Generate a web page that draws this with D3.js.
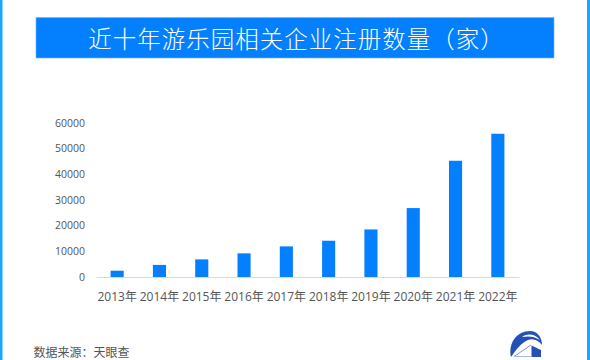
<!DOCTYPE html>
<html>
<head>
<meta charset="utf-8">
<script src="https://cdn.jsdelivr.net/npm/d3@7"></script>
<style>
  html, body { margin: 0; padding: 0; background: #fff; overflow: hidden; }
  svg { display: block; }
  text { font-family: "Open Sans", "Noto Sans CJK SC", sans-serif; }
</style>
</head>
<body>
<div id="chart"></div>
<script>
const years = ['2013年', '2014年', '2015年', '2016年', '2017年', '2018年', '2019年', '2020年', '2021年', '2022年'];
const counts = [2450, 4700, 6850, 9200, 11900, 14100, 18500, 26800, 45200, 55700];
const yTicks = [0, 10000, 20000, 30000, 40000, 50000, 60000];
const title = '近十年游乐园相关企业注册数量（家）';
const source = '数据来源：天眼查';

const width = 590, height = 360;
const svg = d3.select('#chart').append('svg').attr('width', width).attr('height', height);

// side strips of the page frame
svg.append('rect').attr('x', 0).attr('y', 0).attr('width', 2.5).attr('height', height).attr('fill', '#1ba7ff');
svg.append('rect').attr('x', 587).attr('y', 0).attr('width', 3).attr('height', height).attr('fill', '#1ba7ff');

// title banner
svg.append('rect')
    .attr('x', 36).attr('y', 17.5).attr('width', 518).attr('height', 40.5)
    .attr('fill', '#0480ff')
    .attr('stroke', '#6db5ff').attr('stroke-width', 0.6);
svg.append('text')
    .attr('x', 296.5).attr('y', 37.5)
    .attr('text-anchor', 'middle')
    .attr('dominant-baseline', 'central')
    .attr('fill', '#fff')
    .style('font-family', '"Noto Sans CJK SC", sans-serif')
    .style('font-weight', 300)
    .style('font-size', '23.5px')
    .style('letter-spacing', '1px')
    .text(title);

const x = d3.scaleBand().domain(years).range([96, 519]).paddingInner(0.69).paddingOuter(0.345);
const y = d3.scaleLinear().domain([0, 60000]).range([277, 122.7]);

// y axis, labels only
const yAxis = svg.append('g')
    .attr('transform', 'translate(85,0)')
    .call(d3.axisLeft(y).tickValues(yTicks).tickSize(0).tickPadding(0).tickFormat(d3.format('d')));
yAxis.select('.domain').remove();
yAxis.selectAll('text').attr('fill', '#555').style('font-size', '10.5px');

// x axis
const xAxis = svg.append('g')
    .attr('transform', 'translate(0,277)')
    .call(d3.axisBottom(x).tickSize(0).tickPadding(15));
xAxis.select('.domain').attr('stroke', '#d9d9d9').attr('stroke-width', 1);
xAxis.selectAll('text').attr('fill', '#555').style('font-size', '12px');

// bars
svg.selectAll('.bar')
    .data(years)
    .enter()
    .append('rect')
    .attr('class', 'bar')
    .attr('x', d => x(d))
    .attr('width', x.bandwidth())
    .attr('y', (d, i) => y(counts[i]))
    .attr('height', (d, i) => y(0) - y(counts[i]))
    .attr('fill', '#0480ff');

// source note
svg.append('text')
    .attr('x', 33.5).attr('y', 357)
    .attr('fill', '#555')
    .style('font-family', '"Noto Sans CJK SC", sans-serif')
    .style('font-size', '12px')
    .text(source);

// logo
const logo = svg.append('g');
logo.append('path')
    .attr('d', 'M511 357 C508 343 517 331 530 331 C537 331 542 337 542 345 C538 340 533 338 528 340 C521 343 516 350 511 357 Z')
    .attr('fill', '#2450b8');
logo.append('path')
    .attr('d', 'M522 337 C528 333 535 334 540 340 C534 336 528 336 522 337 Z')
    .attr('fill', '#fff');
logo.append('path')
    .attr('d', 'M531.5 357 L531.5 345.5 L541 350 L541 357 Z')
    .attr('fill', '#2450b8');
logo.append('path')
    .attr('d', 'M514 356.5 L531 345')
    .attr('stroke', '#7f9adb').attr('stroke-width', 1).attr('fill', 'none');
logo.append('path')
    .attr('d', 'M514 356.5 L531.5 356.5')
    .attr('stroke', '#a9bbe6').attr('stroke-width', 1).attr('fill', 'none');
</script>
</body>
</html>
